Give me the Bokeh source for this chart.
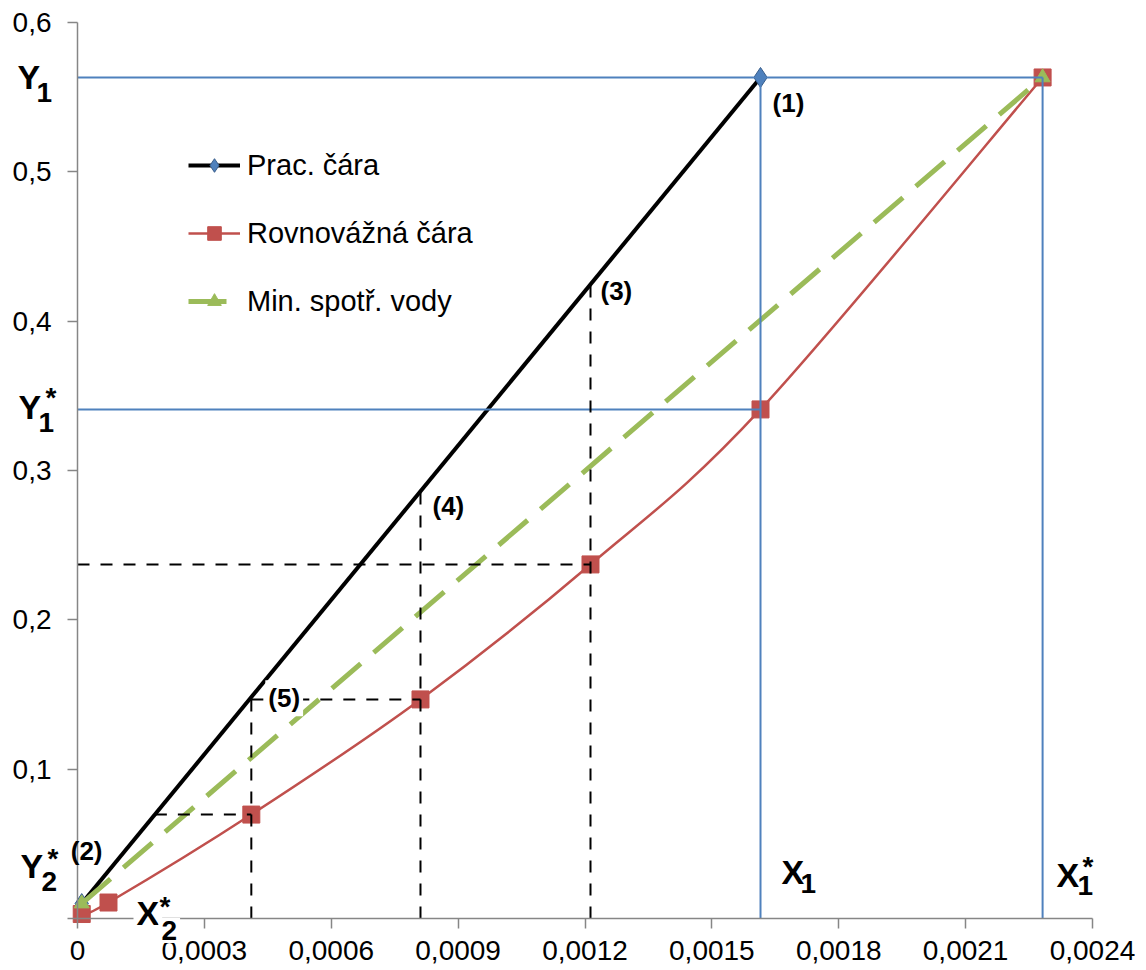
import numpy as np
from bokeh.plotting import figure
from bokeh.models import Range1d, FixedTicker, Label
from bokeh.embed import file_html
from bokeh.resources import INLINE

# ---------------- data ----------------
work_x = [0.00001, 0.001615]          # Prac. čára
work_y = [0.010, 0.5632]
eq_x = [0.00001, 0.0000733, 0.000411, 0.000811, 0.001213, 0.001615, 0.002282]   # Rovnovážná čára
eq_y = [0.003, 0.0107, 0.0696, 0.1467, 0.2371, 0.3409, 0.5632]
min_x = [0.00001, 0.002282]           # Min. spotř. vody
min_y = [0.010, 0.5632]

X1, Y1 = 0.001615, 0.5632
X1s, Y1s = 0.002282, 0.3409
stair_x = [0.000411, 0.000811, 0.001213]

x_ticks = [0, 0.0003, 0.0006, 0.0009, 0.0012, 0.0015, 0.0018, 0.0021, 0.0024]
x_tick_labels = ["0", "0,0003", "0,0006", "0,0009", "0,0012", "0,0015", "0,0018", "0,0021", "0,0024"]
y_ticks = [0, 0.1, 0.2, 0.3, 0.4, 0.5, 0.6]
y_tick_labels = ["", "0,1", "0,2", "0,3", "0,4", "0,5", "0,6"]

FONT = "Liberation Sans"
BLUE = "#4F81BD"
RED = "#C0504D"
GREEN = "#9BBB59"
AXIS = "#868686"

# ---------------- layout (pixels) ----------------
W, H = 1146, 968
PL, PR, PT, PB = 77, 1092, 22, 918      # where the axes box sits on the canvas
XMAX, YMAX = x_ticks[-1], y_ticks[-1]
kx = XMAX / (PR - PL)
ky = YMAX / (PB - PT)

p = figure(width=W, height=H, output_backend="svg", toolbar_location=None,
           x_range=Range1d(-PL * kx, XMAX + (W - PR) * kx),
           y_range=Range1d(-(H - PB) * ky, YMAX + PT * ky),
           min_border_left=0, min_border_right=0, min_border_top=0, min_border_bottom=0)
p.outline_line_color = None
p.xgrid.visible = False
p.ygrid.visible = False
p.background_fill_color = "white"
p.border_fill_color = "white"

for ax, ticks, labels, bnds in ((p.xaxis[0], x_ticks, x_tick_labels, (0, XMAX)),
                                (p.yaxis[0], y_ticks, y_tick_labels, (0, YMAX))):
    ax.ticker = FixedTicker(ticks=ticks)
    ax.major_label_overrides = dict(zip(ticks, labels))
    ax.fixed_location = 0
    ax.bounds = bnds
    ax.axis_line_color = AXIS
    ax.axis_line_width = 1.5
    ax.major_tick_line_color = AXIS
    ax.major_tick_line_width = 1.5
    ax.major_tick_in = 0
    ax.major_tick_out = 10
    ax.minor_tick_line_color = None
    ax.major_label_text_font = FONT
    ax.major_label_text_font_size = "28px"
    ax.major_label_text_color = "black"
p.xaxis[0].major_label_standoff = 12
p.yaxis[0].major_label_standoff = 16

# ---------------- series ----------------
p.line(work_x, work_y, line_color="black", line_width=4, legend_label="Prac. čára")
p.scatter(work_x, work_y, marker="diamond", size=20, fill_color=BLUE,
          line_color="#385D8A", line_width=1, legend_label="Prac. čára")

# smoothed equilibrium curve (Catmull-Rom -> cubic Bezier through the points)
ex = np.array(eq_x)
ey = np.array(eq_y)
px_ = np.concatenate([[ex[0]], ex, [ex[-1]]])
py_ = np.concatenate([[ey[0]], ey, [ey[-1]]])
n = len(ex) - 1
cx0 = [px_[i + 1] + (px_[i + 2] - px_[i]) / 6 for i in range(n)]
cy0 = [py_[i + 1] + (py_[i + 2] - py_[i]) / 6 for i in range(n)]
cx1 = [px_[i + 2] - (px_[i + 3] - px_[i + 1]) / 6 for i in range(n)]
cy1 = [py_[i + 2] - (py_[i + 3] - py_[i + 1]) / 6 for i in range(n)]
p.bezier(x0=ex[:-1], y0=ey[:-1], x1=ex[1:], y1=ey[1:], cx0=cx0, cy0=cy0, cx1=cx1, cy1=cy1,
         line_color=RED, line_width=2.5, legend_label="Rovnovážná čára")
p.scatter(eq_x, eq_y, marker="square", size=17, fill_color=RED, line_color=RED,
          legend_label="Rovnovážná čára")

p.line(min_x, min_y, line_color=GREEN, line_width=5, line_dash="38 17",
       legend_label="Min. spotř. vody")
p.scatter(min_x, min_y, marker="triangle", size=15, fill_color=GREEN, line_color=GREEN,
          legend_label="Min. spotř. vody")

# construction lines (blue)
p.multi_line(xs=[[0, X1s], [0, X1], [X1, X1], [X1s, X1s]],
             ys=[[Y1, Y1], [Y1s, Y1s], [0, Y1], [0, Y1]],
             line_color=BLUE, line_width=2)


def op_y(x):
    return float(np.interp(x, work_x, work_y))


def op_x(y):
    return float(np.interp(y, work_y, work_x))


# stair construction (black dashed)
sx0, sx1, sx2 = stair_x
p.multi_line(
    xs=[[0, sx2], [sx2, sx2], [sx1, sx1], [sx0, sx1], [sx0, sx0], [op_x(eq_y[2]), sx0]],
    ys=[[eq_y[4], eq_y[4]], [0, op_y(sx2)], [0, op_y(sx1)], [eq_y[3], eq_y[3]],
        [0, op_y(sx0)], [eq_y[2], eq_y[2]]],
    line_color="black", line_width=2, line_dash="12 11")

# ---------------- legend ----------------
lg = p.legend[0]
lg.location = (188, H - 318)
lg.margin = 0
lg.padding = 0
lg.spacing = 34
lg.glyph_width = 52
lg.glyph_height = 34
lg.label_standoff = 7
lg.label_text_font = FONT
lg.label_text_font_size = "29px"
lg.label_text_color = "black"
lg.border_line_color = None
lg.background_fill_alpha = 0


def lab(text, x, y, dx, dy, size, bg=False):
    kw = {}
    if bg:
        kw = dict(background_fill_color="white", background_fill_alpha=1.0, padding=3)
    p.add_layout(Label(x=x, y=y, x_offset=dx, y_offset=dy, text=text,
                       text_font=FONT, text_font_size=f"{size}px", text_font_style="bold",
                       text_color="black", text_align="left", text_baseline="middle", **kw))


BIG, SUB = 34, 28
# Y1
lab("Y", 0, Y1, -60, 0, BIG)
lab("1", 0, Y1, -41, -15, SUB)
# Y1*
lab("Y", 0, Y1s, -59, 2, BIG)
lab("1", 0, Y1s, -39, -13, SUB)
lab("*", 0, Y1s, -32, 12, SUB)
# Y2*
lab("Y", 0, 0, -57, 53, BIG)
lab("2", 0, 0, -36, 37, SUB)
lab("*", 0, 0, -30, 60, SUB)
# X2*
lab("X", 0, 0, 56, 6, BIG, bg=True)
lab("2", 0, 0, 81, -12, SUB, bg=True)
lab("*", 0, 0, 82, 12, SUB)
# X1
lab("X", X1, 0, 21, 47, BIG)
lab("1", X1, 0, 40, 35, SUB)
# X1*
lab("X", X1s, 0, 14, 44, BIG)
lab("1", X1s, 0, 35, 33, SUB)
lab("*", X1s, 0, 40, 52, SUB)

# point numbers
NUM = 26
lab("(1)", X1, Y1, 12, -26, NUM)
lab("(2)", work_x[0], work_y[0], -11, 53, NUM)
lab("(3)", sx2, op_y(sx2), 10, -7, NUM)
lab("(4)", sx1, op_y(sx1), 12, -15, NUM)
lab("(5)", sx0, op_y(sx0), 14, -1, NUM, bg=True)

open("out.html", "w").write(file_html(p, INLINE))
